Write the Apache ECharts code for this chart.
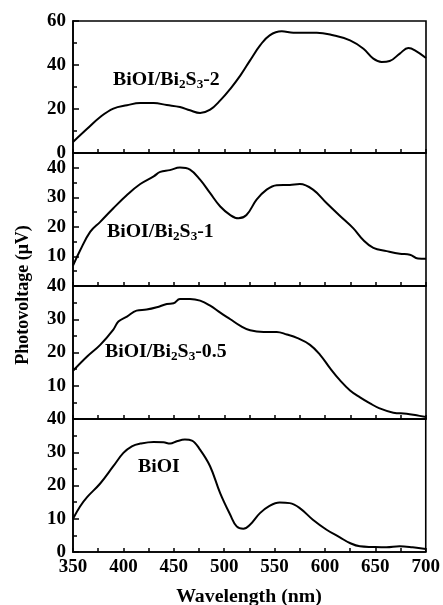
<!DOCTYPE html>
<html><head><meta charset="utf-8">
<script src="https://cdn.jsdelivr.net/npm/echarts@6/dist/echarts.min.js"></script>
<style>html,body{margin:0;padding:0;background:#fff}#c{width:443px;height:605px}</style>
</head><body><div id="c"></div>
<script>
// Panel 1: BiOI/Bi2S3-2
const wl1 = [350,364,377,390,403.5,416.7,430,443,456,466,476,486,496,506,516,525.6,535.5,545,557,568.5,591.7,608,624.7,638,647.8,656,664,674,682.5,689,700];
const pv1 = [5.0,11,16.4,20.2,21.7,22.7,22.7,21.8,20.9,19.4,18.2,19.7,23.9,29.2,35.3,42.1,48.9,53.5,55.3,54.7,54.7,53.5,51.2,47.4,42.9,41.4,41.8,45.2,47.7,46.7,43.2];
// Panel 2: BiOI/Bi2S3-1
const wl2 = [350,357,367,377,390,403.5,416.7,430,436.5,446,456,466,476,486,496,506,514,522,532,542,552,565,575,588,601.6,614.8,628,638,647.8,661,674,684,692,700];
const pv2 = [6.9,12,18.3,21.7,26.3,30.8,34.5,37.1,38.6,39.2,40.1,39.4,36,31.4,26.9,24,22.9,24,29.2,32.6,34.1,34.2,34.5,32.6,28,23.7,19.5,15.5,12.9,11.8,10.9,10.6,9.3,9.2];
// Panel 3: BiOI/Bi2S3-0.5
const wl3 = [350,364,377,390,395,403.5,413,423,433,443,449.7,456,466,476,486,496,506,516,525.6,539,552,562,572,585,595,605,614.8,624.7,634.6,644.5,654,667.6,680.8,690.7,700];
const pv3 = [14.5,18.8,22.3,26.9,29.3,30.8,32.6,32.9,33.6,34.6,34.8,36.1,36.1,35.6,34.1,32,30,28,26.7,26.2,26.2,25.4,24.4,22.3,19.3,15.2,11.6,8.6,6.5,4.7,3.2,1.9,1.6,1.1,0.6];
// Panel 4: BiOI
const wl4 = [350,357,364,377,390,400,408.4,416.7,430,439.8,446.4,453,461,468,476,486,496,506,512.4,519,525.6,535.5,545,555,565,575,588,601.6,614.8,624.7,634.6,647.8,661,674,687,700];
const pv4 = [10,13.7,16.5,20.6,25.8,29.8,31.8,32.6,33.1,33,32.6,33.3,33.8,33.5,30.8,25.8,17.7,11.2,7.7,7,8.2,11.7,13.9,14.9,14.7,13.2,9.7,6.7,4.4,2.7,1.7,1.5,1.4,1.7,1.4,0.9];

const sampleNames = ['BiOI/Bi{s|2}S{s|3}-2','BiOI/Bi{s|2}S{s|3}-1','BiOI/Bi{s|2}S{s|3}-0.5','BiOI'];
const xTitle = 'Wavelength (nm)';
const yTitle = 'Photovoltage (μV)';
const xTickLabels = [350,400,450,500,550,600,650,700];
const yLabels = [[0,20,40,60],[10,20,30,40],[10,20,30,40],[0,10,20,30,40]];
const yMax = [60,45,40,40];
const yInterval = [20,10,10,10];

const wls = [wl1,wl2,wl3,wl4];
const pvs = [pv1,pv2,pv3,pv4];

const tops = [21,153,286,419];
const heights = [132,133,133,133];
const font = 'Liberation Serif';

const grids = [], xAxes = [], yAxes = [], series = [];
for (let i = 0; i < 4; i++) {
  grids.push({left:73, right:17, top:tops[i], height:heights[i], show:true, borderColor:'#000', borderWidth:1.6, backgroundColor:'transparent'});
  xAxes.push({
    type:'value', gridIndex:i, min:350, max:700, interval:25,
    axisLine:{show:true, onZero:false, lineStyle:{color:'#000', width:1.6}},
    axisTick:{show:true, inside:true, length:4, lineStyle:{color:'#000', width:1.5}},
    axisLabel:{show:i===3, color:'#000', fontFamily:font, fontWeight:'bold', fontSize:19, margin:6,
      formatter:v => xTickLabels.includes(v) ? String(v) : ''},
    splitLine:{show:false}
  });
  yAxes.push({
    type:'value', gridIndex:i, min:0, max:yMax[i], interval:yInterval[i],
    axisLine:{show:true, lineStyle:{color:'#000', width:1.6}},
    axisTick:{show:true, inside:true, length:6, lineStyle:{color:'#000', width:1.5}},
    minorTick:{show:true, splitNumber:2, length:4, lineStyle:{color:'#000', width:1.5}},
    axisLabel:{color:'#000', fontFamily:font, fontWeight:'bold', fontSize:19, margin:7,
      showMinLabel:true, showMaxLabel:true,
      formatter:(v => yLabels[i].includes(v) ? String(v) : '')},
    splitLine:{show:false}
  });
  series.push({
    type:'line', xAxisIndex:i, yAxisIndex:i, smooth:0.4, showSymbol:false, symbol:'none',
    lineStyle:{color:'#000', width:2}, silent:true,
    data: wls[i].map((w,k) => [w, pvs[i][k]])
  });
}

const labelPos = [[113,80],[107,232],[105,352],[138,467]];
const graphics = sampleNames.map((t,i) => ({
  type:'text', x:labelPos[i][0], y:labelPos[i][1], scaleX:1.1,
  style:{text:t, fill:'#000', font:'bold 18px "Liberation Serif"', verticalAlign:'middle',
    rich:{s:{fontSize:12, fontWeight:'bold', fontFamily:font, fill:'#000', padding:[9,0,0,0]}}}
}));
graphics.push({
  type:'text', x:23, y:295, rotation:Math.PI/2,
  style:{text:yTitle, fill:'#000', font:'bold 18px "Liberation Serif"', align:'center', verticalAlign:'middle'}
});
graphics.push({
  type:'text', x:249, y:597, scaleX:1.1,
  style:{text:xTitle, fill:'#000', font:'bold 18px "Liberation Serif"', align:'center', verticalAlign:'middle'}
});

const chart = echarts.init(document.getElementById('c'), null, {renderer:'canvas'});
chart.setOption({
  animation:false, backgroundColor:'#fff',
  grid:grids, xAxis:xAxes, yAxis:yAxes, series:series, graphic:graphics
});
</script></body></html>
